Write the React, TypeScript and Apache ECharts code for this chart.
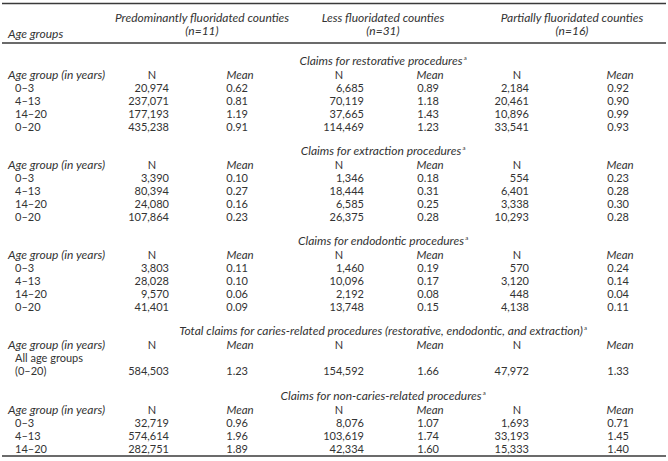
import React, { useEffect, useRef } from "react";
import * as echarts from "echarts";

const groupTitles = ["Predominantly fluoridated counties", "Less fluoridated counties", "Partially fluoridated counties"];
const groupCounts = ["(n=11)", "(n=31)", "(n=16)"];

const sectionTitles = [
  "Claims for restorative procedures",
  "Claims for extraction procedures",
  "Claims for endodontic procedures",
  "Total claims for caries-related procedures (restorative, endodontic, and extraction)",
  "Claims for non-caries-related procedures",
];

const ageRows4 = ["0–3", "4–13", "14–20", "0–20"];
const ageRows3 = ["0–3", "4–13", "14–20"];
const totalRows = ["All age groups", "(0–20)"];

// restorative
const restN1 = [20974, 237071, 177193, 435238];
const restM1 = [0.62, 0.81, 1.19, 0.91];
const restN2 = [6685, 70119, 37665, 114469];
const restM2 = [0.89, 1.18, 1.43, 1.23];
const restN3 = [2184, 20461, 10896, 33541];
const restM3 = [0.92, 0.9, 0.99, 0.93];
// extraction
const extN1 = [3390, 80394, 24080, 107864];
const extM1 = [0.1, 0.27, 0.16, 0.23];
const extN2 = [1346, 18444, 6585, 26375];
const extM2 = [0.18, 0.31, 0.25, 0.28];
const extN3 = [554, 6401, 3338, 10293];
const extM3 = [0.23, 0.28, 0.3, 0.28];
// endodontic
const endoN1 = [3803, 28028, 9570, 41401];
const endoM1 = [0.11, 0.1, 0.06, 0.09];
const endoN2 = [1460, 10096, 2192, 13748];
const endoM2 = [0.19, 0.17, 0.08, 0.15];
const endoN3 = [570, 3120, 448, 4138];
const endoM3 = [0.24, 0.14, 0.04, 0.11];
// total caries-related (values on the second row)
const totN1 = [null, 584503];
const totM1 = [null, 1.23];
const totN2 = [null, 154592];
const totM2 = [null, 1.66];
const totN3 = [null, 47972];
const totM3 = [null, 1.33];
// non-caries-related
const nonN1 = [32719, 574614, 282751];
const nonM1 = [0.96, 1.96, 1.89];
const nonN2 = [8076, 103619, 42334];
const nonM2 = [1.07, 1.74, 1.6];
const nonN3 = [1693, 33193, 15333];
const nonM3 = [0.71, 1.45, 1.4];

const sections = [
  { rows: ageRows4, n: [restN1, restN2, restN3], m: [restM1, restM2, restM3] },
  { rows: ageRows4, n: [extN1, extN2, extN3], m: [extM1, extM2, extM3] },
  { rows: ageRows4, n: [endoN1, endoN2, endoN3], m: [endoM1, endoM2, endoM3] },
  { rows: totalRows, n: [totN1, totN2, totN3], m: [totM1, totM2, totM3] },
  { rows: ageRows3, n: [nonN1, nonN2, nonN3], m: [nonM1, nonM2, nonM3] },
];

const W = 668;
const H = 461;
const FONT = "Lato, 'Open Sans', sans-serif";
const COLOR = "#333333";
const FS = 11;
const FS_IT = 12;

// layout
const groupCenters = [202, 383, 572];
const nHeadX = [152, 339, 517];
const nRightX = [169, 364, 529];
const meanHeadX = [240, 430, 620];
const meanRightX = [248, 439, 629];
const titleCenterX = 381;
const ROW = 13;
const TITLE_GAP = 14;
const SECTION_STEP = 24.25;

function txt(text: string, x: number, y: number, opts: any = {}) {
  return {
    type: "text",
    x,
    y,
    silent: true,
    style: {
      text,
      fill: COLOR,
      fontFamily: FONT,
      fontSize: opts.fontSize || (opts.italic ? FS_IT : FS),
      fontStyle: opts.italic ? "italic" : "normal",
      align: opts.align || "left",
      verticalAlign: "middle",
    },
  };
}

function fmtN(v: number) {
  return v.toLocaleString("en-US");
}

function measure(s: string) {
  const c = document.createElement("canvas").getContext("2d")!;
  c.font = `italic ${FS_IT}px ${FONT}`;
  return c.measureText(s).width;
}

function buildElements() {
  const els: any[] = [];
  const line = (y: number) => ({
    type: "line",
    silent: true,
    shape: { x1: 2, y1: y, x2: 666, y2: y },
    style: { stroke: "#3a3a3a", lineWidth: 1.3 },
  });
  els.push(line(3.5));
  els.push(line(43));

  els.push(txt("Age groups", 8, 33, { italic: true }));
  groupTitles.forEach((t, i) => {
    els.push(txt(t, groupCenters[i], 17, { italic: true, align: "center" }));
    els.push(txt(groupCounts[i], groupCenters[i], 30.5, { italic: true, align: "center" }));
  });

  let y = 60;
  sections.forEach((sec, si) => {
    const t = sectionTitles[si];
    els.push(txt(t, titleCenterX, y, { italic: true, align: "center" }));
    const w = measure(t);
    els.push({
      type: "text",
      x: titleCenterX + w / 2 + 1,
      y: y - 3,
      silent: true,
      style: { text: "a", fill: COLOR, fontFamily: FONT, fontSize: 6, verticalAlign: "middle" },
    });
    y += TITLE_GAP;
    els.push(txt("Age group (in years)", 8, y, { italic: true }));
    for (let g = 0; g < 3; g++) {
      els.push(txt("N", nHeadX[g], y, { align: "center" }));
      els.push(txt("Mean", meanHeadX[g], y, { italic: true, align: "center", fontSize: 11.5 }));
    }
    sec.rows.forEach((r, ri) => {
      y += ROW;
      els.push(txt(r, 15, y));
      for (let g = 0; g < 3; g++) {
        const nv = sec.n[g][ri];
        const mv = sec.m[g][ri];
        if (nv != null) els.push(txt(fmtN(nv as number), nRightX[g], y, { align: "right" }));
        if (mv != null) els.push(txt((mv as number).toFixed(2), meanRightX[g], y, { align: "right" }));
      }
    });
    y += SECTION_STEP;
  });
  els.push(line(y - SECTION_STEP + 8));
  return els;
}

export default function App() {
  const ref = useRef<HTMLDivElement>(null);
  useEffect(() => {
    document.body.style.margin = "0";
    const chart = echarts.init(ref.current!, null, { renderer: "svg", width: W, height: H });
    chart.setOption({
      animation: false,
      backgroundColor: "#ffffff",
      graphic: { elements: buildElements() },
    });
    return () => chart.dispose();
  }, []);
  return <div ref={ref} style={{ width: W, height: H }} />;
}
